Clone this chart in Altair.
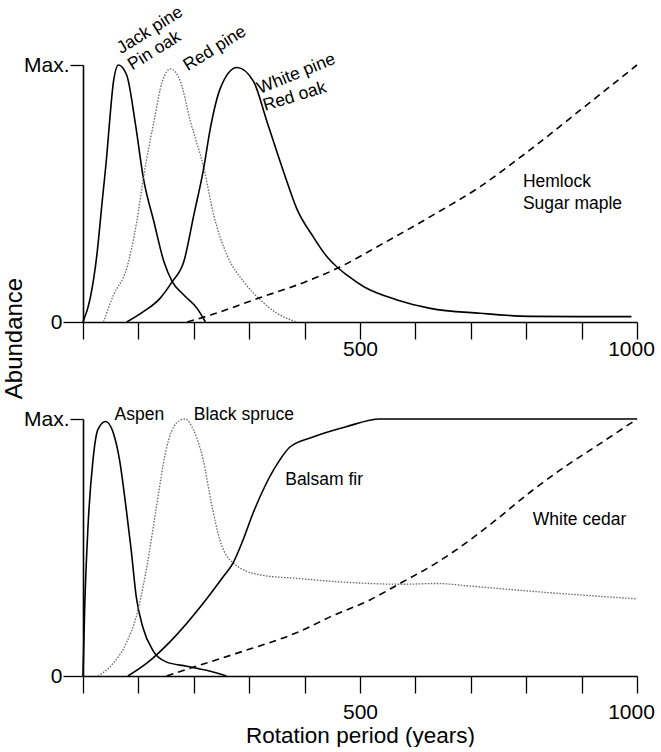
import altair as alt
import pandas as pd

# ---------------- data (x = rotation period in years, y = relative abundance, 1 = "Max.") ----------
# Top panel
jack_years = [0, 13, 25, 34, 43, 49, 55, 64, 79, 94, 109, 128, 146, 161, 182, 206, 221]
jack_vals = [0, 0.092, 0.26, 0.455, 0.65, 0.805, 0.935, 1.0, 0.96, 0.78, 0.56, 0.39, 0.235, 0.157, 0.105, 0.053, 0.0]

redpine_years = [37, 55, 79, 97, 109, 128, 143, 158, 176, 194, 218, 236, 260, 290, 320, 350, 386]
redpine_vals = [0, 0.105, 0.21, 0.39, 0.56, 0.78, 0.935, 0.985, 0.935, 0.78, 0.6, 0.416, 0.26, 0.157, 0.086, 0.034, 0.0]

whitepine_years = [79, 109, 139, 161, 182, 200, 218, 230, 248, 278, 308, 332, 362, 386, 416, 440, 458, 476, 507, 567, 627, 717, 807, 900, 990]
whitepine_vals = [0, 0.04, 0.092, 0.157, 0.235, 0.416, 0.6, 0.755, 0.91, 0.99, 0.935, 0.78, 0.585, 0.44, 0.33, 0.255, 0.215, 0.183, 0.137, 0.086, 0.053, 0.034, 0.022, 0.021, 0.021]

hemlock_years = [188, 230, 320, 400, 460, 537, 627, 717, 807, 898, 1000]
hemlock_vals = [0, 0.027, 0.095, 0.155, 0.21, 0.3, 0.41, 0.527, 0.67, 0.825, 1.0]

# Bottom panel
aspen_years = [0, 3, 9, 18, 27, 41, 54, 66, 78, 87, 96, 108, 126, 150, 187, 223, 259]
aspen_vals = [0, 0.26, 0.58, 0.84, 0.96, 0.99, 0.95, 0.84, 0.65, 0.49, 0.31, 0.19, 0.1, 0.055, 0.038, 0.022, 0.0]

spruce_years = [27, 54, 78, 96, 114, 132, 150, 169, 184, 199, 217, 232, 247, 271, 320, 385, 458, 578, 638, 699, 807, 900, 1000]
spruce_vals = [0, 0.048, 0.127, 0.23, 0.41, 0.65, 0.88, 0.985, 1.0, 0.96, 0.84, 0.67, 0.53, 0.44, 0.393, 0.38, 0.367, 0.357, 0.36, 0.35, 0.33, 0.315, 0.3]

fir_years = [81, 114, 157, 217, 253, 271, 289, 307, 331, 355, 373, 415, 475, 536, 600, 700, 800, 900, 1000]
fir_vals = [0, 0.048, 0.133, 0.283, 0.386, 0.44, 0.53, 0.634, 0.75, 0.84, 0.89, 0.93, 0.97, 1.0, 1.0, 1.0, 1.0, 1.0, 1.0]

cedar_years = [151, 193, 277, 398, 446, 518, 572, 638, 699, 747, 807, 867, 927, 1000]
cedar_vals = [0, 0.03, 0.088, 0.18, 0.23, 0.296, 0.36, 0.44, 0.53, 0.61, 0.715, 0.81, 0.895, 1.0]

# axis tick values / labels
x_ticks = list(range(0, 1001, 100))
x_tick_labels = {500: "500", 1000: "1000"}
y_ticks = [0, 1]
y_tick_labels = {0: "0", 1: "Max."}

# annotations: (text, year, abundance, angle, align)
top_labels = [
    ("Jack pine", 121, 1.135, 328, "center"),
    ("Pin oak", 129, 1.055, 328, "center"),
    ("Red pine", 238, 1.064, 328, "center"),
    ("White pine", 385, 0.965, 338, "center"),
    ("Red oak", 382, 0.877, 343, "center"),
    ("Hemlock", 794, 0.545, 0, "left"),
    ("Sugar maple", 794, 0.459, 0, "left"),
]
bottom_labels = [
    ("Aspen", 57, 1.016, 0, "left"),
    ("Black spruce", 200, 1.016, 0, "left"),
    ("Balsam fir", 365, 0.763, 0, "left"),
    ("White cedar", 812, 0.607, 0, "left"),
]

FONT = "Liberation Sans"
W, H = 554, 257

STYLES = {
    "solid": dict(color="black", strokeWidth=1.6),
    "dotted": dict(color="#666666", strokeWidth=1.3, strokeDash=[1.5, 1.5]),
    "dashed": dict(color="black", strokeWidth=1.6, strokeDash=[7, 5]),
}


def label_expr(mapping):
    parts = " : ".join(f"datum.value == {k} ? '{v}'" for k, v in mapping.items())
    return parts + " : ''"


def encodings(bottom):
    x_axis = alt.Axis(
        values=x_ticks, labelExpr=label_expr(x_tick_labels), labelOverlap=False,
        labelFlush=False, tickSize=17, tickWidth=1.3, labelPadding=8 if bottom else -1,
        labelOffset={"condition": {"test": "datum.value == 1000", "value": -6}, "value": 0},
        labelFontSize=21, labelFont=FONT, labelColor="black", domainColor="black",
        domainWidth=1.6, tickColor="black", grid=False,
        title="Rotation period (years)" if bottom else None,
        titleFont=FONT, titleFontSize=22.5, titleFontWeight="normal", titleColor="black",
        titlePadding=2,
    )
    y_kwargs = dict(
        values=y_ticks, labelExpr=label_expr(y_tick_labels), labelOverlap=False,
        labelFlush=False,
        tickSize={"condition": {"test": "datum.value == 0", "value": 20}, "value": 13},
        tickWidth=1.3, labelPadding=1,
        labelFontSize=21, labelFont=FONT, labelColor="black", domainColor="black",
        domainWidth=1.6, tickColor="black", grid=False,
    )
    if bottom:
        y_axis = alt.Axis(title=None, **y_kwargs)
    else:
        y_axis = alt.Axis(
            title="Abundance", titleFont=FONT, titleFontSize=24, titleFontWeight="normal",
            titleColor="black", titleX=-69, titleY=273, titleAngle=270,
            titleAlign="center", titleBaseline="middle", **y_kwargs)
    x = alt.X("year:Q", scale=alt.Scale(domain=[0, 1000], nice=False, zero=True), axis=x_axis)
    y = alt.Y("abundance:Q", scale=alt.Scale(domain=[0, 1], nice=False), axis=y_axis)
    return x, y


def curve(years, vals, kind, bottom):
    df = pd.DataFrame({"year": years, "abundance": vals})
    x, y = encodings(bottom)
    return alt.Chart(df).mark_line(interpolate="monotone", clip=False, **STYLES[kind]).encode(x=x, y=y)


def texts(labels, bottom):
    layers = []
    x, y = encodings(bottom)
    for text, yr, ab, ang, align in labels:
        df = pd.DataFrame({"year": [yr], "abundance": [ab], "label": [text]})
        layers.append(
            alt.Chart(df).mark_text(
                font=FONT, fontSize=17.5, color="black", angle=ang, align=align,
                baseline="middle", clip=False,
            ).encode(x=x, y=y, text="label:N")
        )
    return layers


top = alt.layer(
    curve(jack_years, jack_vals, "solid", False),
    curve(redpine_years, redpine_vals, "dotted", False),
    curve(whitepine_years, whitepine_vals, "solid", False),
    curve(hemlock_years, hemlock_vals, "dashed", False),
    *texts(top_labels, False),
).properties(width=W, height=H)

bottom = alt.layer(
    curve(aspen_years, aspen_vals, "solid", True),
    curve(spruce_years, spruce_vals, "dotted", True),
    curve(fir_years, fir_vals, "solid", True),
    curve(cedar_years, cedar_vals, "dashed", True),
    *texts(bottom_labels, True),
).properties(width=W, height=H)

chart = alt.vconcat(top, bottom, spacing=97, bounds="flush").properties(
    padding={"left": 2, "top": 3, "right": 0, "bottom": 0},
    background="white",
).configure_view(stroke=None)

chart.save("out.html", embed_options={"renderer": "svg", "actions": False})
